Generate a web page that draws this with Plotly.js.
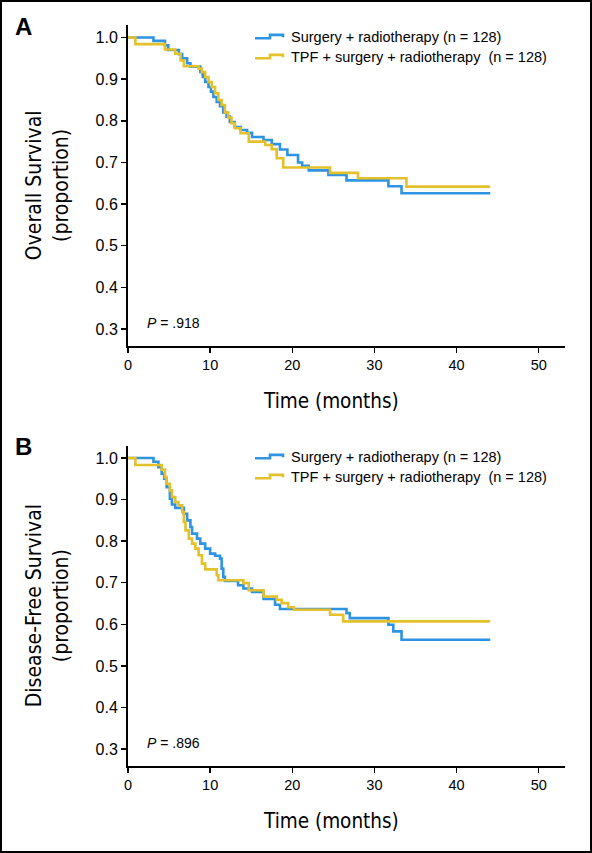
<!DOCTYPE html>
<html>
<head>
<meta charset="utf-8">
<script src="https://cdn.plot.ly/plotly-3.0.1.min.js"></script>
<style>
  html, body { margin: 0; padding: 0; background: #fff; }
  #wrap { position: relative; width: 592px; height: 853px; }
  #chart { position: absolute; left: 0; top: 0; width: 592px; height: 853px; }
  #frame { position: absolute; left: 0; top: 0; width: 592px; height: 853px; box-sizing: border-box; border: 2px solid #000; pointer-events: none; }
</style>
</head>
<body>
<div id="wrap"><div id="chart"></div><div id="frame"></div></div>
<script>
// ---------- DATA ----------
const seriesNames = ["Surgery + radiotherapy (n = 128)", "TPF + surgery + radiotherapy\u00a0 (n = 128)"];
const panelLetters = ["A", "B"];
const yTitles = ["Overall Survival<br>(proportion)", "Disease-Free Survival<br>(proportion)"];
const xTitle = "Time (months)";
const pValues = ["<i>P</i> = .918", "<i>P</i> = .896"];
const yTickVals = [0.3, 0.4, 0.5, 0.6, 0.7, 0.8, 0.9, 1.0];
const xTickVals = [0, 10, 20, 30, 40, 50];

// Panel A – Overall survival
const osSurgeryT = [0, 3.1, 4.5, 4.9, 6.2, 6.6, 7.2, 7.6, 8.8, 9.1, 9.4, 9.8, 10.1, 10.4, 10.8, 11.2, 11.6, 12.0, 12.4, 13.0, 13.7, 14.5, 15.1, 16.5, 17.5, 18.5, 19.4, 20.7, 21.2, 22.0, 24.4, 26.6, 31.7, 33.3, 44.1];
const osSurgeryS = [1, 0.992, 0.981, 0.97, 0.96, 0.95, 0.938, 0.93, 0.917, 0.905, 0.893, 0.881, 0.87, 0.857, 0.845, 0.835, 0.82, 0.81, 0.797, 0.785, 0.778, 0.771, 0.761, 0.754, 0.744, 0.731, 0.718, 0.70, 0.692, 0.681, 0.67, 0.657, 0.643, 0.626, 0.626];
const osTpfT = [0, 0.9, 4.5, 5.75, 6.4, 6.8, 8.6, 9.0, 9.4, 9.8, 10.2, 10.6, 11.0, 11.4, 11.8, 12.2, 12.6, 13.0, 13.7, 14.7, 16.7, 17.5, 18.1, 18.9, 24.6, 28.0, 33.9, 44.1];
const osTpfS = [1, 0.984, 0.971, 0.961, 0.945, 0.931, 0.925, 0.917, 0.905, 0.893, 0.881, 0.866, 0.85, 0.838, 0.82, 0.808, 0.794, 0.782, 0.77, 0.75, 0.742, 0.732, 0.71, 0.688, 0.675, 0.662, 0.642, 0.642];

// Panel B – Disease-free survival
const dfsSurgeryT = [0, 3.1, 3.7, 4.1, 4.4, 4.7, 5.1, 5.35, 5.75, 6.8, 7.2, 7.6, 7.8, 8.4, 8.8, 9.4, 10.0, 10.6, 11.2, 11.4, 11.6, 11.8, 13.4, 14.05, 15.1, 16.5, 17.9, 18.5, 26.6, 27.0, 31.7, 32.3, 33.3, 44.1];
const dfsSurgeryS = [1, 0.991, 0.978, 0.962, 0.95, 0.93, 0.902, 0.888, 0.88, 0.866, 0.85, 0.834, 0.818, 0.806, 0.794, 0.782, 0.77, 0.765, 0.758, 0.734, 0.714, 0.704, 0.694, 0.686, 0.678, 0.661, 0.647, 0.637, 0.627, 0.615, 0.599, 0.583, 0.563, 0.563];
const dfsTpfT = [0, 0.9, 4.1, 4.5, 4.7, 5.1, 5.35, 5.75, 6.15, 6.6, 6.8, 7.0, 7.4, 7.8, 8.2, 8.6, 9.0, 9.4, 10.8, 11.0, 14.05, 14.7, 16.5, 18.1, 18.7, 19.5, 20.2, 24.6, 26.2, 44.1];
const dfsTpfS = [1, 0.983, 0.972, 0.954, 0.938, 0.922, 0.906, 0.894, 0.886, 0.87, 0.846, 0.826, 0.806, 0.794, 0.782, 0.766, 0.746, 0.732, 0.718, 0.706, 0.699, 0.682, 0.667, 0.659, 0.651, 0.641, 0.635, 0.623, 0.607, 0.607];

// ---------- STYLE / LAYOUT ----------
const W = 592, H = 853;
const px = x => x / W;
const py = y => 1 - y / H;
const BLUE = "#2e93e2";
const YELLOW = "#e4c12a";
const colors = [BLUE, YELLOW];
const TXT = "'Liberation Sans', Arial, Helvetica, sans-serif";
const NARROW = "'DejaVu Sans Condensed', 'DejaVu Sans', sans-serif";

const panels = [
  { t: [osSurgeryT, osTpfT], s: [osSurgeryS, osTpfS], top: 25, bottom: 345.7, xa: "x", ya: "y" },
  { t: [dfsSurgeryT, dfsTpfT], s: [dfsSurgeryS, dfsTpfS], top: 445.5, bottom: 765.7, xa: "x2", ya: "y2" }
];

const traces = [];
panels.forEach((p, pi) => {
  [0, 1].forEach(k => {
    traces.push({
      type: "scatter", mode: "lines",
      x: p.t[k], y: p.s[k],
      xaxis: p.xa, yaxis: p.ya,
      name: seriesNames[k],
      showlegend: false,
      line: { color: colors[k], width: 2.6, shape: "hv" },
      hoverinfo: "skip"
    });
  });
});

function xAxis(anchor) {
  return {
    domain: [px(128), px(565)], range: [0, 53.2], anchor: anchor,
    showgrid: false, zeroline: false, showline: true, linecolor: "#000", linewidth: 2,
    ticks: "outside", ticklen: 5, tickwidth: 1.5, tickcolor: "#000",
    tickvals: xTickVals, ticktext: xTickVals.map(String),
    tickfont: { family: TXT, size: 14.5, color: "#000" }, fixedrange: true
  };
}
function yAxis(anchor, p, title) {
  return {
    domain: [py(p.bottom), py(p.top)], range: [0.26, 1.03], anchor: anchor,
    showgrid: false, zeroline: false, showline: true, linecolor: "#000", linewidth: 2,
    ticks: "outside", ticklen: 5, tickwidth: 1.5, tickcolor: "#000",
    tickvals: yTickVals, ticktext: yTickVals.map(v => v.toFixed(1)),
    tickfont: { family: TXT, size: 16, color: "#000" },
    title: { text: title, font: { family: NARROW, size: 21, color: "#000" }, standoff: 21 },
    fixedrange: true
  };
}

const annotations = [];
const shapes = [];
panels.forEach((p, pi) => {
  const off = pi * 420;
  annotations.push({ xref: "paper", yref: "paper", x: px(13), y: py(26.7 + off), xanchor: "left", yanchor: "middle",
    text: "<b>" + panelLetters[pi] + "</b>", showarrow: false, font: { family: TXT, size: 24, color: "#000" } });
  annotations.push({ xref: p.xa, yref: p.ya, x: 2.1, y: 0.315, xanchor: "left", yanchor: "middle",
    text: pValues[pi], showarrow: false, font: { family: TXT, size: 14, color: "#000" } });
  annotations.push({ xref: "paper", yref: "paper", x: px(331), y: py(401 + off), xanchor: "center", yanchor: "middle",
    text: xTitle, showarrow: false, font: { family: NARROW, size: 20.5, color: "#000" } });
  [0, 1].forEach(k => {
    const yc = 36.7 + 20 * k + off;
    annotations.push({ xref: "paper", yref: "paper", x: px(289), y: py(yc), xanchor: "left", yanchor: "middle",
      text: seriesNames[k], showarrow: false, font: { family: TXT, size: 14.5, color: "#000" } });
    const path = "M" + px(255) + "," + py(yc + 1.6) + " L" + px(270) + "," + py(yc + 1.6) +
      " L" + px(270) + "," + py(yc - 1.8) + " L" + px(283) + "," + py(yc - 1.8) + " L" + px(283) + "," + py(yc + 0.6);
    shapes.push({ type: "path", xref: "paper", yref: "paper", path: path, line: { color: colors[k], width: 2.6 } });
  });
});

const layout = {
  width: W, height: H,
  margin: { l: 0, r: 0, t: 0, b: 0, pad: 0 },
  paper_bgcolor: "#fff", plot_bgcolor: "#fff",
  showlegend: false,
  xaxis: xAxis("y"), yaxis: yAxis("x", panels[0], yTitles[0]),
  xaxis2: xAxis("y2"), yaxis2: yAxis("x2", panels[1], yTitles[1]),
  annotations: annotations,
  shapes: shapes,
  font: { family: TXT, color: "#000" }
};

Plotly.newPlot("chart", traces, layout, { staticPlot: true, displayModeBar: false });
</script>
</body>
</html>
